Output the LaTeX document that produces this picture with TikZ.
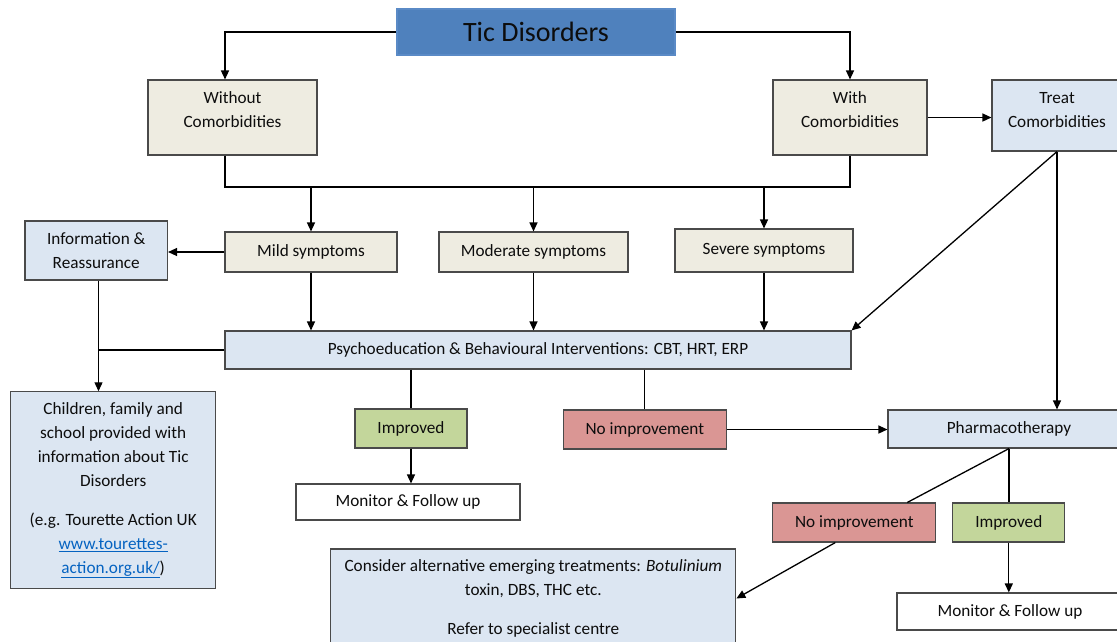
\documentclass[tikz,border=0pt]{standalone}
\usepackage{fontspec}
\setmainfont{Carlito}
\usetikzlibrary{arrows.meta}
\definecolor{beige}{HTML}{EEECE1}
\definecolor{lblue}{HTML}{DCE6F2}
\definecolor{gbox}{HTML}{C3D69B}
\definecolor{rbox}{HTML}{DA9694}
\definecolor{tblue}{HTML}{4F81BD}
\definecolor{tborder}{HTML}{5A8AC6}
\definecolor{bord}{HTML}{4A4A4A}
\definecolor{linkc}{HTML}{0563C1}
\newcommand\uptext[2]{\raisebox{#1}[\height][\depth]{\begin{tabular}{@{}c@{}}#2\end{tabular}}}
\begin{document}
\begin{tikzpicture}[x=1pt,y=-1pt,
  box/.style={draw=bord, line width=1.1pt, inner sep=0pt, align=center,
    font=\fontsize{17.2}{24}\selectfont, text=black!95},
  arr/.style={line width=1.3pt, -{Triangle[length=9pt,width=8pt]}},
  ln/.style={line width=1.3pt}]
\useasboundingbox (0,0) rectangle (1117,641);
\clip (0,0) rectangle (1117,641);

\node[box, fill=tblue, draw=tborder, minimum width=278pt, minimum height=46pt,
  font=\fontsize{28}{32}\selectfont] (title) at (536,32) {Tic Disorders};
\node[box, fill=beige, minimum width=169pt, minimum height=75pt] (without) at (232.5,117.5)
  {\uptext{7pt}{Without\\Comorbidities}};
\node[box, fill=beige, minimum width=154pt, minimum height=75pt] (with) at (850,117.5)
  {\uptext{7pt}{With\\Comorbidities}};
\node[box, fill=lblue, minimum width=130pt, minimum height=71pt] (treat) at (1057,115.5)
  {\uptext{5pt}{Treat\\Comorbidities}};

\node[box, fill=beige, minimum width=172pt, minimum height=40pt] (mild) at (311,252) {Mild symptoms};
\node[box, fill=beige, minimum width=189pt, minimum height=40pt] (moderate) at (533.5,252) {Moderate symptoms};
\node[box, fill=beige, minimum width=178pt, minimum height=43pt] (severe) at (764,250.5) {\raisebox{2pt}{Severe symptoms}};
\node[box, fill=lblue, minimum width=142.5pt, minimum height=59pt] (info) at (96.25,250.5)
  {Information \&\\Reassurance};

\node[box, fill=lblue, minimum width=626pt, minimum height=38pt] (psycho) at (538,350)
  {Psychoeducation \& Behavioural Interventions: CBT, HRT, ERP};

\node[box, fill=lblue, minimum width=205pt, minimum height=197pt] (children) at (113.2,490.3)
  {Children, family and\\school provided with\\information about Tic\\Disorders\\[15pt]
   (e.g. Tourette Action UK\\{\color{linkc}\underline{www.tourettes-}}\\{\color{linkc}\underline{action.org.uk/}})};

\node[box, fill=gbox, minimum width=112pt, minimum height=39pt] (imp1) at (411,428.5) {Improved};
\node[box, fill=white, minimum width=224pt, minimum height=36pt] (mon1) at (408,502) {Monitor \& Follow up};
\node[box, fill=rbox, minimum width=163pt, minimum height=39pt] (noimp1) at (644.8,429.5) {No improvement};
\node[box, fill=lblue, minimum width=242pt, minimum height=38pt] (pharma) at (1009,429) {Pharmacotherapy};
\node[box, fill=rbox, minimum width=163pt, minimum height=39pt] (noimp2) at (854.3,522.5) {No improvement};
\node[box, fill=gbox, minimum width=112pt, minimum height=39pt] (imp2) at (1008.8,522.5) {Improved};
\node[box, fill=white, minimum width=226pt, minimum height=37pt] (mon2) at (1010,611.5) {Monitor \& Follow up};
\node[box, fill=lblue, minimum width=405pt, minimum height=99pt] (consider) at (533.3,598.5)
  {Consider alternative emerging treatments: \textit{Botulinium}\\toxin, DBS, THC etc.\\[15pt]Refer to specialist centre};

\coordinate (lx) at (225,0);
\coordinate (bus) at (0,187);
\coordinate (j) at (98.5,350);

\draw[arr] (title.west) -| (without.north -| lx);
\draw[arr] (title.east) -| (with.north);
\draw[ln] (without.south -| lx) |- (bus -| with.south) -- (with.south);
\draw[arr] (bus -| mild.north) -- (mild.north);
\draw[arr] (bus -| moderate.north) -- (moderate.north);
\draw[arr] (bus -| severe.north) -- (severe.north);
\draw[arr] (with.east) -- (with.east -| treat.west);
\draw[arr] (mild.west) -- (mild.west -| info.east);
\draw[arr] (mild.south) -- (mild.south |- psycho.north);
\draw[arr] (moderate.south) -- (moderate.south |- psycho.north);
\draw[arr] (severe.south) -- (severe.south |- psycho.north);
\draw[arr] (treat.south) -- (psycho.north east);
\draw[arr] (treat.south) -- (treat.south |- pharma.north);
\draw[ln] (psycho.west) -- (j);
\draw[arr] (info.south -| j) -- (children.north -| j);
\draw[ln] (psycho.south -| imp1.north) -- (imp1.north);
\draw[arr] (imp1.south) -- (imp1.south |- mon1.north);
\draw[ln] (psycho.south -| noimp1.north) -- (noimp1.north);
\draw[arr] (noimp1.east) -- (noimp1.east -| pharma.west);
\draw[ln] (pharma.south) -- ([xshift=53pt]noimp2.north);
\draw[ln] (pharma.south) -- (pharma.south |- imp2.north);
\draw[arr] (imp2.south) -- (imp2.south |- mon2.north);
\draw[arr] ([xshift=-19pt]noimp2.south) -- (consider.east);
\end{tikzpicture}
\end{document}
